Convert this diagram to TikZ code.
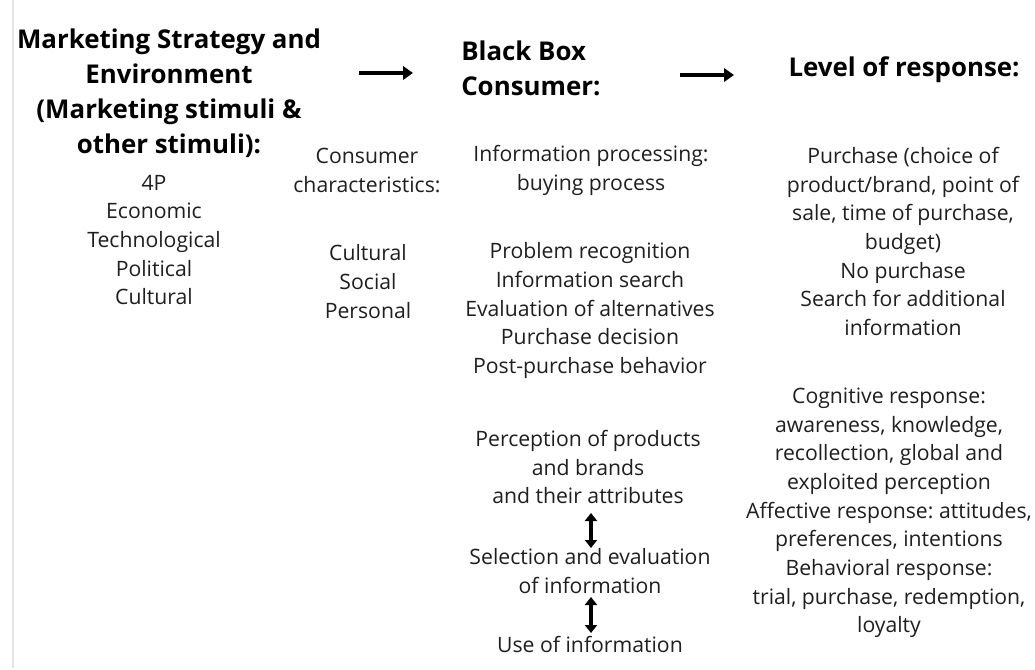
\documentclass[tikz,border=0pt]{standalone}
\usepackage{fontspec}
\setmainfont{Open Sans}
\usetikzlibrary{arrows.meta}
\definecolor{edgegray}{HTML}{E4E4EA}
\frenchspacing
\tikzset{
  head/.style={font=\bfseries\fontsize{19.4}{26.25}\selectfont, align=center, inner sep=0pt, text=black},
  body/.style={font=\fontsize{15.9}{21.5}\selectfont, align=center, inner sep=0pt, text=black!88},
  flow/.style={line width=3pt, -{Triangle[width=10pt,length=7.5pt]}},
  twoway/.style={line width=2.4pt, {Triangle[width=9pt,length=6pt]}-{Triangle[width=9pt,length=6pt]}}
}
\begin{document}
\begin{tikzpicture}[x=0.75pt,y=-0.75pt]
\useasboundingbox (0,0) rectangle (1035,670);
\fill[white] (0,0) rectangle (1035,670);
\draw[edgegray, line width=1.2pt] (13,0) -- (13,668);

% left column
\node[head] (envhead) at (169,93) {Marketing Strategy and\\Environment\\(Marketing stimuli \&\\other stimuli):};
\node[body] (envbody) at (154,240) {4P\\Economic\\Technological\\Political\\Cultural};

% consumer characteristics
\node[body] (charhead) at (367,170.5) {Consumer\\characteristics:};
\node[body] (charbody) at (368,281.5) {Cultural\\Social\\Personal};

% black box
\node[head, align=left, anchor=west] (bbhead) at (461,68) {Black Box\\Consumer:};
\node[body] (infohead) at (591,170.5) {Information processing:\\buying process};
\node[body] (steps) at (590,310.5) {Problem recognition\\Information search\\Evaluation of alternatives\\Purchase decision\\Post-purchase behavior};
\node[body] (percep) at (588,467) {Perception of products\\and brands\\and their attributes};
\node[body] (select) at (590,571) {Selection and evaluation\\of information};
\node[body] (use) at (590,644) {Use of information};

% response
\node[head] (resphead) at (904,70) {Level of response:};
\node[body] (resp1) at (903,241.5) {Purchase (choice of\\product/brand, point of\\sale, time of purchase,\\budget)\\No purchase\\Search for additional\\information};
\node[body] (resp2) at (889,513) {Cognitive response:\\awareness, knowledge,\\recollection, global and\\exploited perception\\Affective response: attitudes,\\preferences, intentions\\Behavioral response:\\trial, purchase, redemption,\\loyalty};

% horizontal arrows
\coordinate (a1s) at (359,73);
\coordinate (a1e) at (413,73);
\coordinate (a2s) at (680,75);
\coordinate (a2e) at (734,75);
\draw[flow] (a1s) -- (a1e);
\draw[flow] (a2s) -- (a2e);

% vertical arrows
\draw[twoway] (591,513) -- (591,548);
\draw[twoway] (591,597) -- (591,633);
\end{tikzpicture}
\end{document}
